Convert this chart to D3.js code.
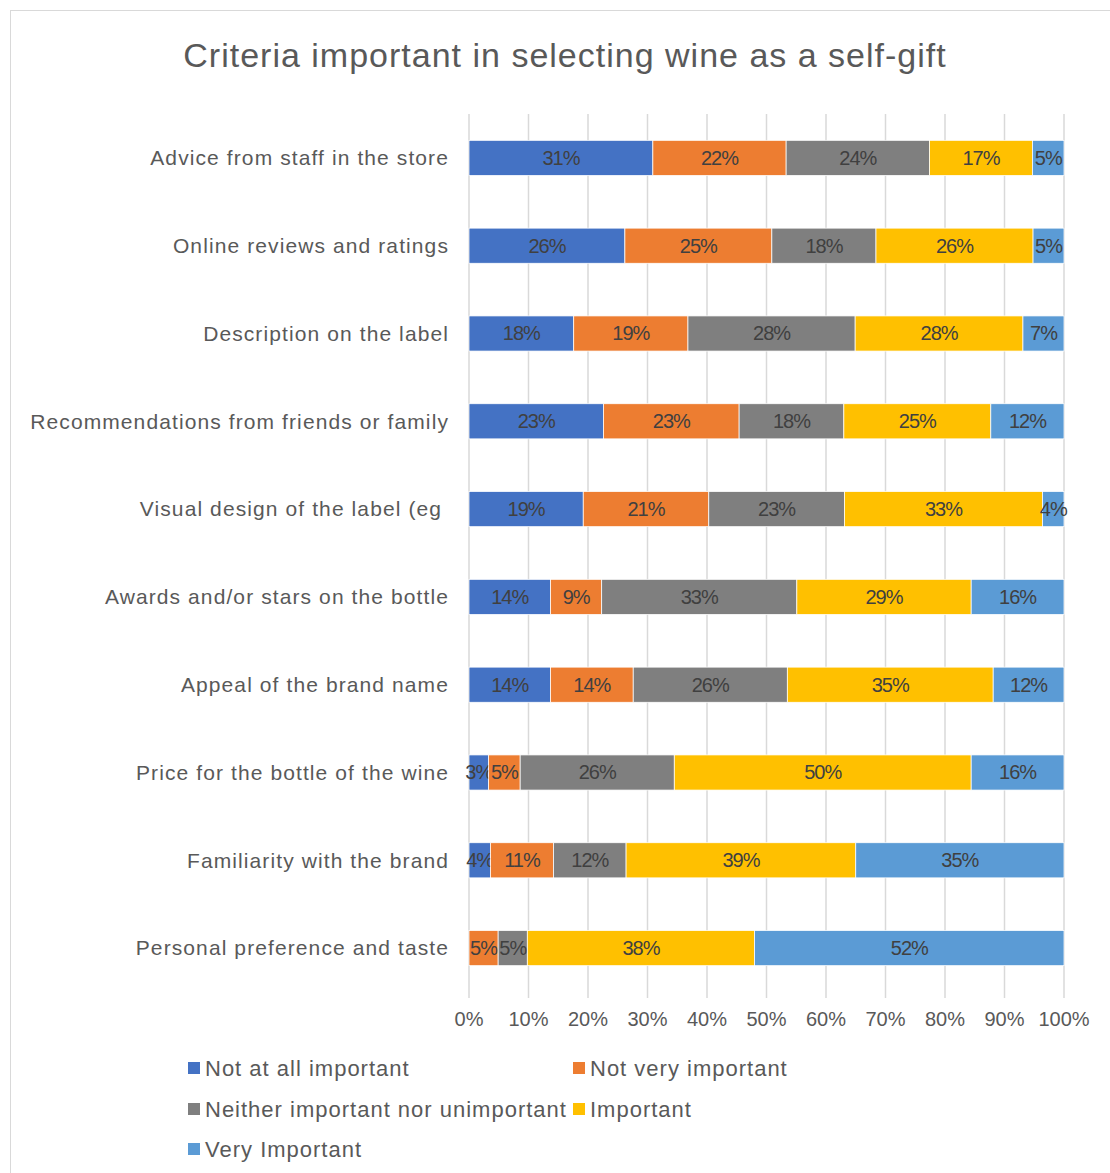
<!DOCTYPE html>
<html>
<head>
<meta charset="utf-8">
<script src="https://cdn.jsdelivr.net/npm/d3@7"></script>
<style>
  body { margin: 0; background: #fff; }
  svg { font-family: "Liberation Sans", Arial, sans-serif; }
</style>
</head>
<body>
<div id="chart"></div>
<script>
// data (percent of respondents)
var categories = [
    "Advice from staff in the store",
    "Online reviews and ratings",
    "Description on the label",
    "Recommendations from friends or family",
    "Visual design of the label (eg ",
    "Awards and/or stars on the bottle",
    "Appeal of the brand name",
    "Price for the bottle of the wine",
    "Familiarity with the brand",
    "Personal preference and taste"
];
var seriesNames = ["Not at all important", "Not very important", "Neither important nor unimportant", "Important", "Very Important"];
var notAtAll  = [30.9, 26.2, 17.6, 22.6, 19.2, 13.7, 13.7,  3.3,  3.6,  0.0];
var notVery   = [22.4, 24.7, 19.2, 22.8, 21.1,  8.6, 13.9,  5.3, 10.6,  4.9];
var neither   = [24.1, 17.5, 28.1, 17.6, 22.8, 32.8, 25.9, 25.9, 12.2,  4.9];
var important = [17.3, 26.4, 28.2, 24.7, 33.3, 29.3, 34.6, 49.9, 38.6, 38.2];
var veryImp   = [ 5.3,  5.2,  6.9, 12.3,  3.6, 15.6, 11.9, 15.6, 35.0, 52.0];
var ticks = [0, 10, 20, 30, 40, 50, 60, 70, 80, 90, 100];

var colors = ["#4472C4", "#ED7D31", "#7F7F7F", "#FFC000", "#5B9BD5"];

var width = 1110, height = 1173;
var svg = d3.select("#chart").append("svg")
    .attr("width", width)
    .attr("height", height);

// chart frame
svg.append("rect")
    .attr("x", 10.5).attr("y", 10.5)
    .attr("width", width).attr("height", height)
    .attr("fill", "#fff")
    .attr("stroke", "#d9d9d9");

svg.append("text")
    .attr("x", 565).attr("y", 67)
    .attr("text-anchor", "middle")
    .attr("font-size", 34)
    .attr("letter-spacing", 1)
    .attr("fill", "#595959")
    .text("Criteria important in selecting wine as a self-gift");

var rows = categories.map(function (c, i) {
    return {
        name: c,
        values: [notAtAll[i], notVery[i], neither[i], important[i], veryImp[i]]
    };
});

var x = d3.scaleLinear().domain([0, 100]).range([469, 1064]);
var y = d3.scaleBand().domain(categories).range([114, 992]).paddingInner(0.6).paddingOuter(0.3);

// gridlines
svg.append("g").selectAll("line")
    .data(ticks)
    .enter().append("line")
    .attr("x1", function (d) { return x(d); })
    .attr("x2", function (d) { return x(d); })
    .attr("y1", 114).attr("y2", 998)
    .attr("stroke", "#d9d9d9")
    .attr("stroke-width", 1.5);

// tick labels
svg.append("g").selectAll("text")
    .data(ticks)
    .enter().append("text")
    .attr("x", function (d) { return x(d); })
    .attr("y", 1026)
    .attr("text-anchor", "middle")
    .attr("font-size", 20)
    .attr("fill", "#595959")
    .text(function (d) { return d + "%"; });

// category labels
svg.append("g").selectAll("text")
    .data(categories)
    .enter().append("text")
    .attr("x", 449)
    .attr("y", function (d) { return y(d) + y.bandwidth() / 2; })
    .attr("dy", "0.35em")
    .attr("text-anchor", "end")
    .attr("font-size", 21)
    .attr("letter-spacing", 1.1)
    .attr("fill", "#595959")
    .style("white-space", "pre")
    .text(function (d) { return d; });

var row = svg.append("g").selectAll(".row")
    .data(rows)
    .enter().append("g")
    .attr("class", "row")
    .attr("transform", function (d) { return "translate(0," + y(d.name) + ")"; });

var segs = row.selectAll("g")
    .data(function (d) {
        var start = 0;
        return d.values.map(function (v, k) {
            var s = { k: k, v: v, x0: start, x1: start + v };
            start += v;
            return s;
        });
    })
    .enter().append("g");

segs.append("rect")
    .attr("x", function (d) { return x(d.x0); })
    .attr("width", function (d) { return x(d.x1) - x(d.x0); })
    .attr("height", y.bandwidth())
    .attr("fill", function (d) { return colors[d.k]; })
    .attr("stroke", "#fff")
    .attr("stroke-width", 0.75);

segs.filter(function (d) { return d.v > 0; })
    .append("text")
    .attr("x", function (d) { return (x(d.x0) + x(d.x1)) / 2; })
    .attr("y", y.bandwidth() / 2)
    .attr("dy", "0.35em")
    .attr("text-anchor", "middle")
    .attr("font-size", 20)
    .attr("letter-spacing", -1)
    .attr("fill", "#404040")
    .text(function (d) { return Math.round(d.v) + "%"; });

// legend
var legendPos = [[188, 1068], [573, 1068], [188, 1109], [573, 1109], [188, 1149]];
var legend = svg.append("g").selectAll("g")
    .data(seriesNames)
    .enter().append("g")
    .attr("transform", function (d, i) { return "translate(" + legendPos[i][0] + "," + legendPos[i][1] + ")"; });

legend.append("rect")
    .attr("x", 0).attr("y", -6)
    .attr("width", 12).attr("height", 12)
    .attr("fill", function (d, i) { return colors[i]; });

legend.append("text")
    .attr("x", 17)
    .attr("dy", "0.35em")
    .attr("font-size", 22)
    .attr("letter-spacing", 1)
    .attr("fill", "#595959")
    .text(function (d) { return d; });
</script>
</body>
</html>
